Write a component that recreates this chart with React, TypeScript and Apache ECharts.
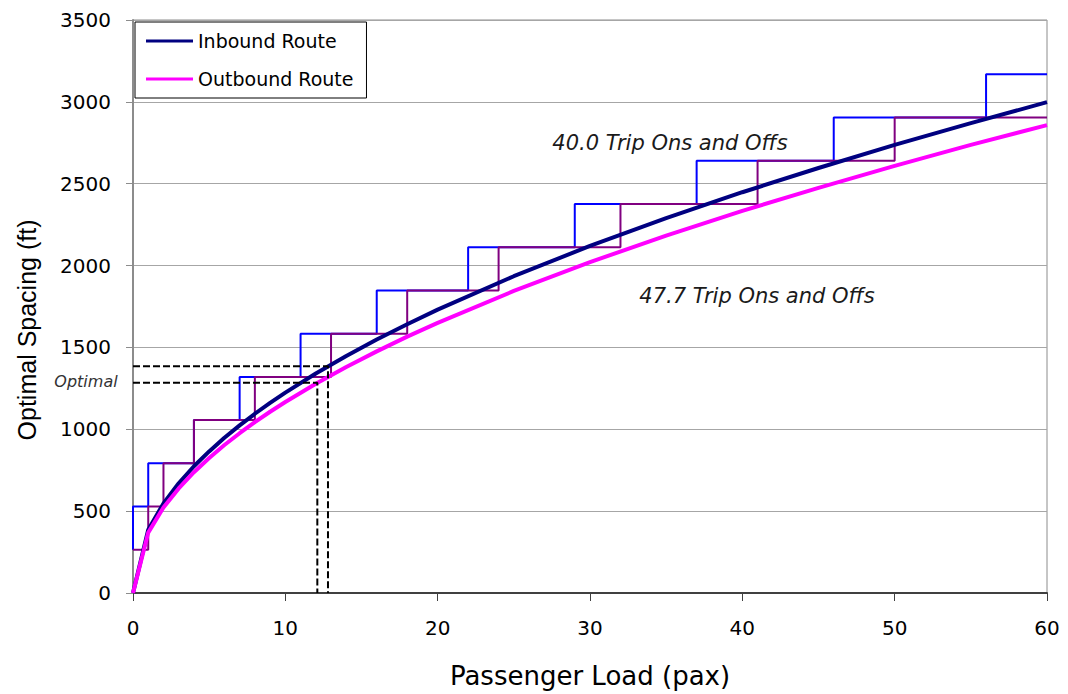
import React, { useEffect, useRef } from "react";
import * as echarts from "echarts";

// Passenger load samples (pax) and the optimal stop spacing curves (ft)
const passengerLoad = [0, 1, 2, 3, 4, 5, 6, 7, 8, 9, 10, 12, 14, 16, 18, 20, 25, 30, 35, 40, 45, 50, 55, 60];
const inboundSpacing = [0, 387, 547, 670, 774, 865, 948, 1024, 1095, 1161, 1224, 1341, 1448, 1548, 1642, 1731, 1935, 2120, 2290, 2448, 2596, 2737, 2870, 2998];
const outboundSpacing = [0, 369, 522, 639, 738, 825, 904, 976, 1044, 1107, 1167, 1278, 1381, 1476, 1566, 1650, 1845, 2021, 2183, 2334, 2475, 2609, 2737, 2858];

// Discrete spacing options (multiples of 264 ft) and the loads at which each route steps up
const inboundStepLoad = [0, 0, 1, 4, 7, 11, 16, 22, 29, 37, 46, 56, 60];
const inboundStepSpacing = [264, 528, 792, 1056, 1320, 1584, 1848, 2112, 2376, 2640, 2904, 3168, 3168];
const outboundStepLoad = [0, 1, 2, 4, 8, 13, 18, 24, 32, 41, 50, 60];
const outboundStepSpacing = [264, 528, 792, 1056, 1320, 1584, 1848, 2112, 2376, 2640, 2904, 2904];

// Optimal operating points (inbound, outbound)
const optimalLoad = [12.8, 12.1];
const optimalSpacing = [1385, 1284];

const yTicks = [0, 500, 1000, 1500, 2000, 2500, 3000, 3500];
const xTicks = [0, 10, 20, 30, 40, 50, 60];

const pairs = (xs: number[], ys: number[]) => xs.map((x, i) => [x, ys[i]]);

const FONT = "DejaVu Sans";

export default function App() {
  const ref = useRef<HTMLDivElement>(null);

  useEffect(() => {
    if (!ref.current) return;
    const chart = echarts.init(ref.current, null, { renderer: "svg" });

    const dashed = (i: number) => ({
      type: "line",
      name: "optimal-" + i,
      data: [
        [0, optimalSpacing[i]],
        [optimalLoad[i], optimalSpacing[i]],
        [optimalLoad[i], 0],
      ],
      symbol: "none",
      silent: true,
      z: 6,
      lineStyle: { color: "#000", width: 2, type: [7, 3] },
    });

    chart.setOption({
      animation: false,
      backgroundColor: "#fff",
      grid: {
        left: 133,
        top: 20,
        width: 914,
        height: 574,
        show: true,
        borderColor: "#8c8c8c",
        borderWidth: 1,
        containLabel: false,
      },
      legend: {
        data: ["Inbound Route", "Outbound Route"],
        orient: "vertical",
        left: 135,
        top: 22,
        padding: [9, 13, 9, 11],
        itemGap: 18,
        itemWidth: 47,
        itemHeight: 3,
        icon: "rect",
        backgroundColor: "#fff",
        borderColor: "#000",
        borderWidth: 1,
        textStyle: { fontFamily: FONT, fontSize: 19, color: "#000", lineHeight: 20 },
      },
      xAxis: {
        type: "value",
        min: xTicks[0],
        max: xTicks[xTicks.length - 1],
        interval: 10,
        name: "Passenger Load (pax)",
        nameLocation: "middle",
        nameGap: 70,
        nameTextStyle: { fontFamily: FONT, fontSize: 26, color: "#000" },
        axisLine: { show: true, lineStyle: { color: "#404040", width: 2 } },
        axisTick: { show: true, inside: false, length: 8, lineStyle: { color: "#404040", width: 1 } },
        axisLabel: {
          fontFamily: FONT,
          fontSize: 20,
          color: "#000",
          margin: 25,
          formatter: (v: number) => String(v),
        },
        splitLine: { show: false },
      },
      yAxis: {
        type: "value",
        min: yTicks[0],
        max: yTicks[yTicks.length - 1],
        interval: 500,
        axisLine: { show: true, lineStyle: { color: "#8c8c8c", width: 2 } },
        axisTick: { show: true, inside: false, length: 7, lineStyle: { color: "#8c8c8c", width: 1 } },
        axisLabel: {
          fontFamily: FONT,
          fontSize: 20,
          color: "#000",
          margin: 22,
          formatter: (v: number) => String(v),
        },
        splitLine: { show: true, lineStyle: { color: "#a6a6a6", width: 1 } },
      },
      graphic: [
        {
          type: "text",
          x: 27,
          y: 330,
          rotation: Math.PI / 2,
          style: {
            text: "Optimal Spacing (ft)",
            font: "25px 'Liberation Sans'",
            fill: "#000",
            align: "center",
            verticalAlign: "middle",
          },
        },
        {
          type: "text",
          x: 86,
          y: 381,
          style: {
            text: "Optimal",
            font: `italic 16px '${FONT}'`,
            fill: "#333",
            align: "center",
            verticalAlign: "middle",
          },
        },
        {
          type: "text",
          x: 670,
          y: 143,
          z: 10,
          style: {
            text: "40.0 Trip Ons and Offs",
            font: `italic 21px '${FONT}'`,
            fill: "#1a1a1a",
            align: "center",
            verticalAlign: "middle",
          },
        },
        {
          type: "text",
          x: 757,
          y: 296,
          z: 10,
          style: {
            text: "47.7 Trip Ons and Offs",
            font: `italic 21px '${FONT}'`,
            fill: "#1a1a1a",
            align: "center",
            verticalAlign: "middle",
          },
        },
      ],
      series: [
        {
          type: "line",
          name: "Inbound stops",
          data: pairs(inboundStepLoad, inboundStepSpacing),
          step: "end",
          symbol: "none",
          z: 2,
          lineStyle: { color: "#0000ff", width: 2 },
        },
        {
          type: "line",
          name: "Outbound stops",
          data: pairs(outboundStepLoad, outboundStepSpacing),
          step: "end",
          symbol: "none",
          z: 3,
          lineStyle: { color: "#800080", width: 2 },
        },
        {
          type: "line",
          name: "Inbound Route",
          data: pairs(passengerLoad, inboundSpacing),
          symbol: "none",
          z: 4,
          color: "#000080",
          lineStyle: { color: "#000080", width: 4 },
        },
        {
          type: "line",
          name: "Outbound Route",
          data: pairs(passengerLoad, outboundSpacing),
          symbol: "none",
          z: 5,
          color: "#ff00ff",
          lineStyle: { color: "#ff00ff", width: 4 },
        },
        dashed(0),
        dashed(1),
      ],
    });

    return () => chart.dispose();
  }, []);

  return (
    <div
      ref={ref}
      style={{ position: "fixed", left: 0, top: 0, width: 1068, height: 694, background: "#fff" }}
    />
  );
}
